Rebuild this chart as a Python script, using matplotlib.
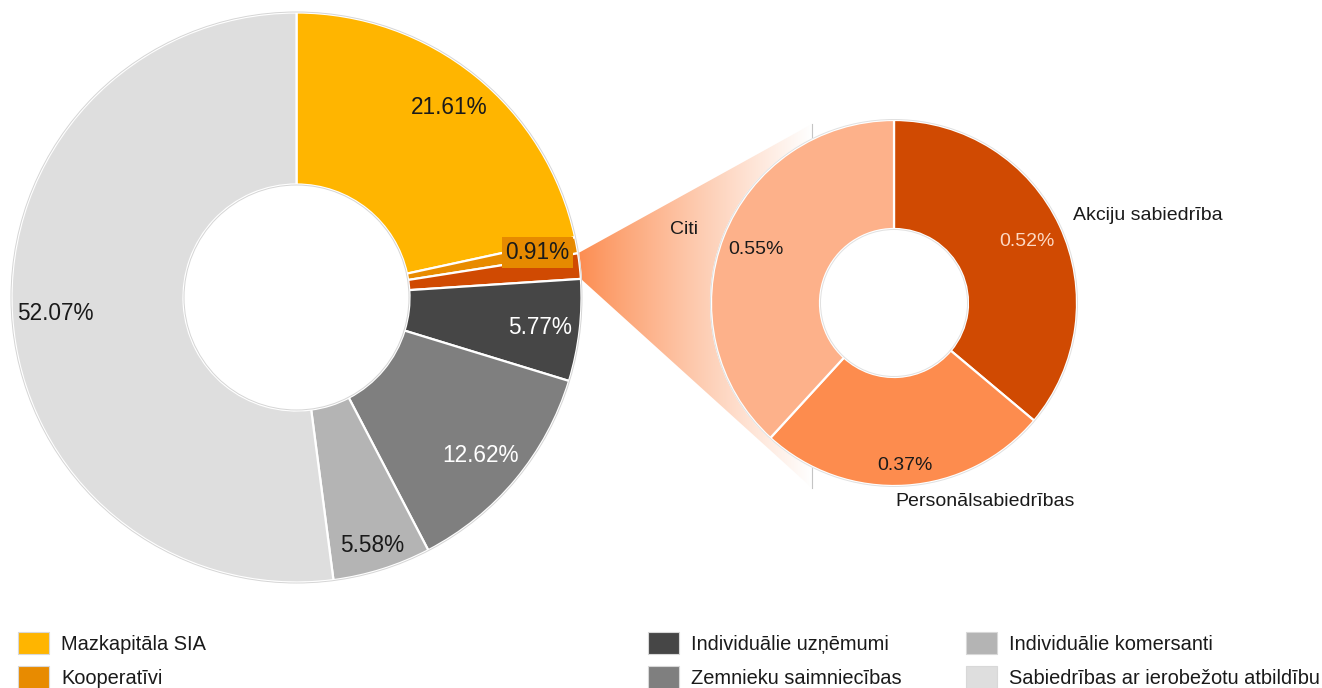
import numpy as np
import matplotlib
matplotlib.use("Agg")
import matplotlib.pyplot as plt
from matplotlib.patches import Polygon, Patch, Circle
from matplotlib.legend import Legend
from matplotlib.colors import to_rgb

plt.rcParams['font.family'] = ['Liberation Sans', 'DejaVu Sans']

# Enterprise structure by legal form (share of total, %)
main_labels = ["Mazkapitāla SIA", "Kooperatīvi", "Citi",
               "Individuālie uzņēmumi", "Zemnieku saimniecības",
               "Individuālie komersanti",
               "Sabiedrības ar ierobežotu atbildību"]
detail_labels = ["Akciju sabiedrība", "Personālsabiedrības", "Citi"]
detail_values = [0.52, 0.37, 0.55]
main_values = [21.61, 0.91, round(sum(detail_values), 2), 5.77, 12.62, 5.58, 52.07]

main_colors = ["#FFB500", "#E88B00", "#D04A02", "#464646",
               "#7F7F7F", "#B4B4B4", "#DEDEDE"]
detail_colors = ["#D04A02", "#FD8C4E", "#FDB18A"]

W, H = 1322, 688


def Y(y):
    return H - y


fig = plt.figure(figsize=(W / 100, H / 100), dpi=100)
ax = fig.add_axes([0, 0, 1, 1])

# ---- main donut ----
cx, cy, R, r = 296.5, Y(297.5), 285, 113
wedges, _ = ax.pie(main_values, colors=main_colors, startangle=90,
                   counterclock=False, radius=R, center=(cx, cy),
                   wedgeprops=dict(width=R - r, edgecolor='white',
                                   linewidth=1.6))
for rad in (R + 0.5, r - 0.5):
    ax.add_patch(Circle((cx, cy), rad, facecolor='none',
                        edgecolor='#D5D5D5', linewidth=0.7, zorder=3))

# ---- connector from the "Citi" slice to the detail donut ----
citi = wedges[2]
t_a, t_b = np.deg2rad(citi.theta1), np.deg2rad(citi.theta2)
p_low = (cx + R * np.cos(t_a), cy + R * np.sin(t_a))
p_high = (cx + R * np.cos(t_b), cy + R * np.sin(t_b))
xr, y_top, y_bot = 812, Y(124), Y(488)
poly = Polygon([p_high, (xr, y_top), (xr, y_bot), p_low], closed=True,
               facecolor='none', edgecolor='none')
ax.add_patch(poly)
g = np.linspace(0, 1, 256) ** 0.9
c0 = np.array(to_rgb("#FC8C50"))
img = (c0[None, :] * (1 - g[:, None]) + g[:, None])[None, :, :]
x_left = min(p_high[0], p_low[0])
im = ax.imshow(img, extent=(x_left, xr, y_bot, y_top), origin='lower',
               aspect='auto', zorder=0.5, interpolation='bilinear')
im.set_clip_path(poly)
ax.plot([xr, xr], [y_bot, y_top], color='#C4C4C4', lw=0.8, zorder=0.6)

# ---- detail donut ----
cx2, cy2, R2, r2 = 894, Y(303), 183, 74
ax.pie(detail_values, colors=detail_colors, startangle=90,
       counterclock=False, radius=R2, center=(cx2, cy2),
       wedgeprops=dict(width=R2 - r2, edgecolor='white', linewidth=1.6))
for rad in (R2 + 0.5, r2 - 0.5):
    ax.add_patch(Circle((cx2, cy2), rad, facecolor='none',
                        edgecolor='#E0E0E0', linewidth=0.7, zorder=3))

# ---- value labels ----
dark = '#1A1A1A'
main_label_pos = [(449.5, 108), (537.5, 252.5), None, (540, 328),
                  (481, 455), (372, 545), (55.5, 314)]
main_label_col = [dark, dark, None, 'white', 'white', dark, dark]
for i, (v, pos, col) in enumerate(zip(main_values, main_label_pos,
                                      main_label_col)):
    if pos is None:
        continue
    kw = {}
    if i == 1:
        kw['bbox'] = dict(boxstyle='square,pad=0.17', facecolor='#E68A00',
                          edgecolor='none')
    ax.text(pos[0], Y(pos[1]), f"{v:.2f}%", ha='center', va='center',
            fontsize=16.3, color=col, zorder=5, **kw)

detail_val_pos = [(1027, 241), (905, 465), (756, 250)]
detail_val_col = ['#FDD9C4', dark, dark]
for v, pos, col in zip(detail_values, detail_val_pos, detail_val_col):
    ax.text(pos[0], Y(pos[1]), f"{v:.2f}%", ha='center', va='center',
            fontsize=14, color=col, zorder=5)

detail_name_pos = [(1148, 216), (985, 502), (684, 229)]
for name, pos in zip(detail_labels, detail_name_pos):
    ax.text(pos[0], Y(pos[1]), name, ha='center', va='center',
            fontsize=14, color=dark, zorder=5)

# ---- legend (three columns; Citi is broken down on the right) ----
handles = [Patch(facecolor=c, edgecolor='#D8D8D8', linewidth=0.8)
           for c in main_colors]
columns = [([0, 1], 18), ([3, 4], 648), ([5, 6], 966)]
for idx, x0 in columns:
    leg = Legend(ax, [handles[i] for i in idx], [main_labels[i] for i in idx],
                 loc='upper left', bbox_to_anchor=(x0, Y(632)),
                 bbox_transform=ax.transData, frameon=False,
                 fontsize=14.4, handlelength=1.55, handleheight=1.35,
                 handletextpad=0.62, labelspacing=0.58, borderpad=0,
                 borderaxespad=0)
    for t in leg.get_texts():
        t.set_color(dark)
    ax.add_artist(leg)

ax.set_xlim(0, W)
ax.set_ylim(0, H)
ax.set_aspect('auto')
ax.axis('off')
fig.savefig('out.png', dpi=100, facecolor='white')
